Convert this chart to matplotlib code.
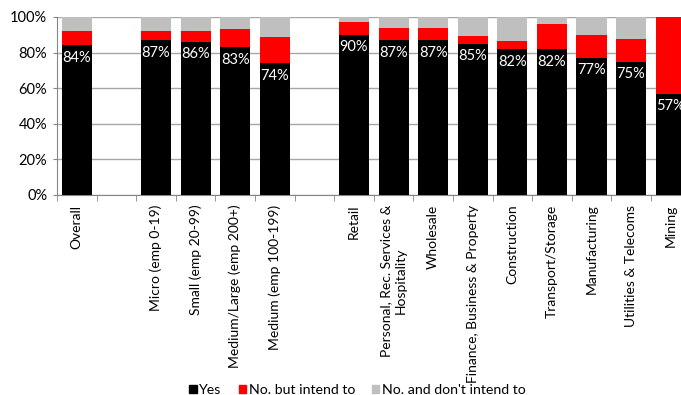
import numpy as np
import matplotlib.pyplot as plt
from matplotlib.patches import Patch

plt.rcParams['font.family'] = ['Lato', 'DejaVu Sans']

# blank entries are spacer slots between the groups
categories = ['Overall', '', 'Micro (emp 0-19)', 'Small (emp 20-99)',
              'Medium/Large (emp 200+)', 'Medium (emp 100-199)', '',
              'Retail', 'Personal, Rec. Services &\nHospitality', 'Wholesale',
              'Finance, Business & Property', 'Construction', 'Transport/Storage',
              'Manufacturing', 'Utilities & Telecoms', 'Mining']
yes = [84, None, 87, 86, 83, 74, None, 90, 87, 87, 85, 82, 82, 77, 75, 57]
intend = [8, None, 5, 6, 10, 15, None, 7, 7, 7, 4.5, 4.3, 14, 13, 12.5, 43]

yes_v = np.array([np.nan if v is None else v for v in yes], dtype=float)
intend_v = np.array([np.nan if v is None else v for v in intend], dtype=float)
no_v = 100 - yes_v - intend_v
x = np.arange(len(categories))

fig = plt.figure(figsize=(6.81, 3.95), dpi=100)
ax = fig.add_axes([57 / 681, 200 / 395, 624 / 681, 178 / 395])

w = 0.76
ax.bar(x, yes_v, w, color='black', label='Yes', zorder=3)
ax.bar(x, intend_v, w, bottom=yes_v, color='#ff0000', label='No. but intend to', zorder=3)
ax.bar(x, no_v, w, bottom=yes_v + intend_v, color='#bfbfbf',
       label="No. and don't intend to", zorder=3)

for xi, v in zip(x, yes_v):
    if np.isnan(v):
        continue
    ax.annotate(f'{v:.0f}%', (xi, v), xytext=(0, -4), textcoords='offset points',
                ha='center', va='top', color='white', fontsize=10.5, zorder=4)

ax.set_yticks(np.arange(0, 101, 20))
ax.set_yticklabels([f'{t}%' for t in range(0, 101, 20)], fontsize=10.5)
ax.yaxis.grid(True, color='#a6a6a6', linewidth=1, zorder=0)
ax.tick_params(axis='y', length=3, color='#868686', pad=4)

ax.set_xticks(x)
ax.set_xticklabels(categories, rotation=90, fontsize=10, va='top', ha='center',
                   multialignment='center')
ax.set_xticks(np.arange(-0.5, 16, 1), minor=True)
ax.tick_params(axis='x', which='major', length=0, pad=7)
ax.tick_params(axis='x', which='minor', length=4, color='#868686')

# limits last so the tick setters don't widen them
ax.set_ylim(0, 100)
ax.set_xlim(-0.5, 15.26)

for s in ['top', 'right']:
    ax.spines[s].set_visible(False)
for s in ['left', 'bottom']:
    ax.spines[s].set_color('#868686')

handles = [Patch(color='black'), Patch(color='#ff0000'), Patch(color='#bfbfbf')]
fig.legend(handles, ['Yes', 'No. but intend to', "No. and don't intend to"],
           loc='lower center', bbox_to_anchor=(0.525, -0.035), ncol=3, frameon=False,
           fontsize=10.2, handlelength=0.5, handleheight=0.5, handletextpad=0.2,
           columnspacing=1.2)

fig.savefig('out.png', dpi=100)
